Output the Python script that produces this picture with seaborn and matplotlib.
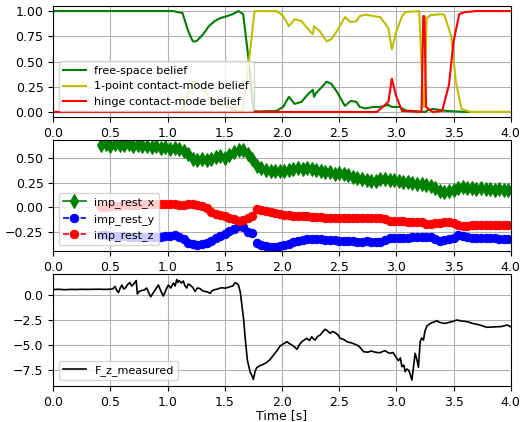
import numpy as np
import pandas as pd
import seaborn as sns
import matplotlib
matplotlib.use("Agg")
import matplotlib.pyplot as plt

plt.rcParams['font.size'] = 9
plt.rcParams['legend.fontsize'] = 8

# --- belief traces (top panel) ---
free_t = [0, 1.05, 1.13, 1.18, 1.22, 1.25, 1.31, 1.36, 1.41, 1.46,
          1.52, 1.57, 1.62, 1.66, 1.71, 1.75, 1.80, 1.95, 2.01, 2.06,
          2.11, 2.17, 2.23, 2.27, 2.28, 2.30, 2.35, 2.39, 2.43, 2.48,
          2.55, 2.60, 2.65, 2.68, 2.73, 2.80, 2.86, 2.93, 2.96, 3.03,
          3.08, 3.20, 3.25, 3.28, 3.32, 3.44, 3.61, 4.0]
free_belief = [1.0, 1.0, 0.98, 0.8, 0.7, 0.7, 0.77, 0.85, 0.9, 0.93,
               0.95, 0.97, 1.0, 0.97, 0.5, 0.01, 0.005, 0.01, 0.05, 0.15,
               0.08, 0.1, 0.18, 0.22, 0.15, 0.19, 0.25, 0.3, 0.28, 0.2,
               0.06, 0.11, 0.1, 0.05, 0.035, 0.05, 0.05, 0.07, 0.05, 0.05,
               0.015, 0.005, 0.0, 0.02, 0.03, 0.01, 0.0, 0.0]

point_t = [0, 1.05, 1.13, 1.18, 1.22, 1.25, 1.31, 1.36, 1.41, 1.46,
           1.52, 1.57, 1.62, 1.66, 1.71, 1.76, 1.95, 1.98, 2.01, 2.06,
           2.11, 2.17, 2.23, 2.27, 2.28, 2.33, 2.39, 2.43, 2.48, 2.55,
           2.60, 2.65, 2.68, 2.73, 2.80, 2.86, 2.93, 2.96, 3.00, 3.05,
           3.08, 3.20, 3.235, 3.245, 3.265, 3.30, 3.40, 3.42, 3.48, 3.52,
           3.57, 3.65, 4.0]
point_belief = [0, 0, 0.02, 0.2, 0.3, 0.3, 0.23, 0.15, 0.1, 0.07,
                0.05, 0.03, 0.0, 0.03, 0.5, 1.0, 1.0, 0.98, 0.95, 0.85,
                0.92, 0.9, 0.82, 0.77, 0.85, 0.8, 0.7, 0.72, 0.8, 0.94,
                0.89, 0.9, 0.95, 0.965, 0.95, 0.94, 0.83, 0.62, 0.8, 0.95,
                0.99, 1.0, 0.05, 0.05, 0.93, 0.96, 0.97, 0.96, 0.75, 0.3,
                0.03, 0.0, 0.0]

hinge_t = [0, 2.83, 2.88, 2.93, 2.96, 3.00, 3.05, 3.22, 3.235, 3.245,
           3.26, 3.28, 3.32, 3.40, 3.46, 3.50, 3.55, 3.60, 3.70, 4.0]
hinge_belief = [0, 0, 0.05, 0.1, 0.33, 0.15, 0.01, 0.0, 0.95, 0.95,
                0.05, 0.03, 0.0, 0.01, 0.27, 0.7, 0.97, 0.99, 1.0, 1.0]

# --- impedance rest position (middle panel), sampled every 0.04 s from 0.42 s ---
imp_t = np.linspace(0.42, 3.98, 90)
imp_rest_x = [0.64, 0.65, 0.63, 0.645, 0.64, 0.635, 0.645, 0.63, 0.635, 0.625,
              0.63, 0.615, 0.625, 0.61, 0.615, 0.60, 0.61, 0.595, 0.575, 0.545,
              0.49, 0.485, 0.495, 0.48, 0.49, 0.51, 0.525, 0.50, 0.53, 0.565,
              0.585, 0.59, 0.54, 0.49, 0.42, 0.405, 0.385, 0.375, 0.37, 0.37,
              0.37, 0.385, 0.39, 0.40, 0.395, 0.40, 0.39, 0.38, 0.37, 0.36,
              0.355, 0.34, 0.35, 0.34, 0.325, 0.31, 0.30, 0.285, 0.28, 0.27,
              0.27, 0.285, 0.29, 0.28, 0.275, 0.27, 0.26, 0.255, 0.25, 0.24,
              0.235, 0.23, 0.22, 0.195, 0.165, 0.16, 0.17, 0.175, 0.20, 0.205,
              0.20, 0.195, 0.19, 0.195, 0.185, 0.19, 0.18, 0.185, 0.175, 0.175]
imp_rest_y = [-0.285, -0.285, -0.29, -0.29, -0.295, -0.295, -0.30, -0.30, -0.30, -0.30,
              -0.30, -0.30, -0.30, -0.30, -0.295, -0.29, -0.285, -0.30, -0.33, -0.37,
              -0.38, -0.385, -0.375, -0.365, -0.35, -0.32, -0.29, -0.27, -0.24, -0.22,
              -0.195, -0.20, -0.25, -0.26, -0.37, -0.385, -0.40, -0.41, -0.41, -0.40,
              -0.39, -0.375, -0.36, -0.345, -0.335, -0.325, -0.325, -0.33, -0.33, -0.335,
              -0.335, -0.34, -0.345, -0.345, -0.35, -0.35, -0.355, -0.355, -0.35, -0.355,
              -0.355, -0.355, -0.34, -0.32, -0.31, -0.31, -0.31, -0.31, -0.305, -0.305,
              -0.305, -0.30, -0.30, -0.33, -0.345, -0.335, -0.325, -0.31, -0.285, -0.29,
              -0.30, -0.31, -0.315, -0.32, -0.32, -0.32, -0.32, -0.325, -0.325, -0.325]
imp_rest_z = [0.00, 0.005, 0.01, 0.01, 0.015, 0.02, 0.02, 0.025, 0.025, 0.03,
              0.03, 0.03, 0.035, 0.035, 0.035, 0.035, 0.03, 0.025, 0.02, 0.03,
              0.035, 0.02, 0.015, -0.01, -0.05, -0.065, -0.08, -0.095, -0.11, -0.125,
              -0.14, -0.13, -0.115, -0.095, -0.015, -0.03, -0.04, -0.05, -0.06, -0.07,
              -0.075, -0.08, -0.085, -0.09, -0.095, -0.095, -0.10, -0.105, -0.105, -0.11,
              -0.11, -0.11, -0.115, -0.11, -0.11, -0.115, -0.11, -0.11, -0.11, -0.115,
              -0.11, -0.115, -0.12, -0.14, -0.145, -0.145, -0.145, -0.15, -0.15, -0.15,
              -0.155, -0.17, -0.175, -0.16, -0.16, -0.155, -0.15, -0.16, -0.185, -0.19,
              -0.19, -0.185, -0.185, -0.18, -0.18, -0.18, -0.18, -0.18, -0.18, -0.18]

# --- measured force (bottom panel) ---
fz_t = [0.00, 0.05, 0.10, 0.15, 0.20, 0.25, 0.30, 0.35, 0.40, 0.45,
        0.50, 0.52, 0.54, 0.555, 0.57, 0.585, 0.60, 0.615, 0.63, 0.65,
        0.67, 0.685, 0.70, 0.715, 0.725, 0.735, 0.75, 0.773, 0.795, 0.817,
        0.835, 0.852, 0.87, 0.89, 0.905, 0.919, 0.94, 0.962, 0.985, 1.006,
        1.027, 1.05, 1.065, 1.08, 1.09, 1.10, 1.12, 1.137, 1.15, 1.167,
        1.18, 1.196, 1.22, 1.24, 1.26, 1.283, 1.30, 1.327, 1.35, 1.371,
        1.39, 1.415, 1.44, 1.458, 1.48, 1.502, 1.525, 1.546, 1.57, 1.59,
        1.605, 1.619, 1.635, 1.648, 1.665, 1.677, 1.697, 1.721, 1.735, 1.75,
        1.765, 1.78, 1.80, 1.823, 1.85, 1.87, 1.896, 1.92, 1.94, 1.96,
        1.983, 2.01, 2.042, 2.07, 2.10, 2.13, 2.15, 2.173, 2.195, 2.217,
        2.24, 2.26, 2.275, 2.29, 2.31, 2.333, 2.355, 2.377, 2.40, 2.42,
        2.44, 2.465, 2.49, 2.508, 2.54, 2.567, 2.61, 2.654, 2.68, 2.712,
        2.75, 2.78, 2.80, 2.83, 2.858, 2.88, 2.902, 2.925, 2.946, 2.97,
        2.99, 3.018, 3.035, 3.048, 3.065, 3.077, 3.09, 3.106, 3.12, 3.136,
        3.15, 3.164, 3.18, 3.193, 3.208, 3.222, 3.237, 3.25, 3.267, 3.29,
        3.31, 3.33, 3.354, 3.37, 3.39, 3.42, 3.45, 3.49, 3.53, 3.57,
        3.62, 3.67, 3.73, 3.79, 3.84, 3.88, 3.92, 3.97, 4.00]
fz_measured = [0.55, 0.57, 0.53, 0.56, 0.55, 0.57, 0.56, 0.57, 0.58, 0.56,
               0.58, 0.62, 0.85, 0.45, 0.25, 0.7, 1.0, 0.6, 0.7, 1.05,
               1.25, 0.9, 1.05, 1.3, 1.45, 0.1, 0.35, 0.45, 0.5, 0.7,
               0.2, -0.17, 0.15, 0.5, 0.75, 1.0, 0.4, -0.1, 0.5, 1.0,
               0.7, 1.2, 0.9, 1.55, 1.25, 1.45, 1.2, 1.4, 0.95, 0.7,
               1.1, 1.0, 0.75, 0.35, 0.7, 0.65, 0.45, 0.35, 0.3, 0.17,
               0.45, 0.55, 0.6, 0.7, 0.72, 0.68, 0.75, 0.83, 0.9, 1.23,
               1.15, 1.0, 0.3, -0.9, -2.5, -4.2, -6.5, -7.7, -8.0, -8.45,
               -7.6, -7.25, -7.1, -7.0, -6.85, -6.7, -6.45, -6.1, -5.8, -5.5,
               -5.1, -4.9, -4.67, -4.9, -5.1, -5.43, -5.0, -4.67, -4.5, -4.33,
               -4.55, -4.17, -4.4, -4.5, -4.15, -4.0, -3.7, -3.43, -3.6, -3.83,
               -3.65, -3.77, -4.0, -4.33, -4.45, -4.67, -4.8, -5.0, -5.2, -5.67,
               -5.72, -5.6, -5.67, -5.75, -5.77, -5.65, -5.57, -5.75, -5.83, -5.75,
               -6.1, -6.57, -6.3, -7.17, -7.0, -7.67, -7.4, -7.5, -7.9, -8.5,
               -7.2, -5.83, -6.5, -7.23, -4.67, -4.3, -4.5, -3.6, -3.1, -2.9,
               -2.77, -2.7, -2.57, -2.7, -2.77, -2.85, -2.77, -2.65, -2.5, -2.6,
               -2.67, -2.85, -3.0, -3.23, -3.2, -3.17, -3.15, -3.0, -3.17]

fig = plt.figure(figsize=(5.21, 4.22), dpi=100)
ax1 = fig.add_axes([0.1023, 0.7227, 0.878, 0.263])
ax2 = fig.add_axes([0.1023, 0.4052, 0.878, 0.263])
ax3 = fig.add_axes([0.1023, 0.0853, 0.878, 0.2654])

# top: beliefs
sns.lineplot(x=free_t, y=free_belief, color='g', lw=1.5, estimator=None,
             label='free-space belief', ax=ax1)
sns.lineplot(x=point_t, y=point_belief, color='y', lw=1.5, estimator=None,
             label='1-point contact-mode belief', ax=ax1)
sns.lineplot(x=hinge_t, y=hinge_belief, color='r', lw=1.5, estimator=None,
             label='hinge contact-mode belief', ax=ax1)
ax1.set_xlim(0, 4)
ax1.set_ylim(-0.05, 1.05)
ax1.set_yticks([0, 0.25, 0.5, 0.75, 1.0])
ax1.legend(loc='lower left')

# middle: impedance rest position
sns.lineplot(x=imp_t, y=imp_rest_x, color='g', marker='d', markersize=7,
             markeredgecolor='g', lw=1.2, estimator=None, label='imp_rest_x', ax=ax2)
sns.lineplot(x=imp_t, y=imp_rest_y, color='b', marker='o', markersize=6,
             markeredgecolor='b', ls='--', lw=1.2, estimator=None, label='imp_rest_y', ax=ax2)
sns.lineplot(x=imp_t, y=imp_rest_z, color='r', marker='o', markersize=6,
             markeredgecolor='r', ls='--', lw=1.2, estimator=None, label='imp_rest_z', ax=ax2)
ax2.set_xlim(0, 4)
ax2.set_ylim(-0.448, 0.687)
ax2.set_yticks([-0.25, 0, 0.25, 0.5])
ax2.legend(loc='lower left')

# bottom: measured force
sns.lineplot(x=fz_t, y=fz_measured, color='k', lw=1.2, estimator=None,
             label='F_z_measured', ax=ax3)
ax3.set_xlim(0, 4)
ax3.set_ylim(-9.1, 2.1)
ax3.set_yticks([-7.5, -5, -2.5, 0])
ax3.set_xlabel('Time [s]', labelpad=0)
ax3.legend(loc='lower left')

for ax in (ax1, ax2, ax3):
    ax.grid(True)
    ax.set_ylabel('')

fig.savefig('out.png', dpi=100)
